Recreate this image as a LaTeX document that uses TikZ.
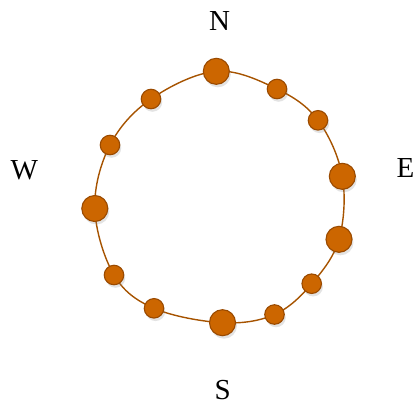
\documentclass[tikz,border=0pt]{standalone}
\usepackage{fontspec}
\setmainfont{Liberation Serif}
\usetikzlibrary{shadows, backgrounds}
\definecolor{dotorange}{HTML}{CC6600}
\definecolor{dotbrown}{HTML}{9A4A00}
\definecolor{ringbrown}{HTML}{A65300}

\begin{document}
\begin{tikzpicture}[x=1pt, y=-1pt,
    dot/.style={circle, fill=dotorange, draw=dotbrown, line width=1.1pt, inner sep=0pt,
        drop shadow={opacity=0.22, shadow xshift=1.5pt, shadow yshift=-3pt}},
    ring/.style={draw=ringbrown, line width=1.4pt},
    compass/.style={font=\fontsize{29}{32}\selectfont, inner sep=0pt}]
    \useasboundingbox (0,0) rectangle (415,405);

    % compass letters
    \node[compass] (north) at (219.5,21) {N};
    \node[compass] (south) at (222.8,390) {S};
    \node[compass] (west) at (24.3,170.3) {W};
    \node[compass] (east) at (405.5,168.5) {E};

    % dots on the ring
    \foreach \nm/\x/\y/\sz in {n/216.3/71.3/26, nne/277/89/19.5, ne/318/120.3/19.5,
        e/342.3/176.3/26, ese/339/239.3/26, se/311.7/283.7/19.5, sse/274.5/314.5/19.5,
        s/222.5/322.7/26, ssw/154/308.3/19.5, sw/114/275/19.5, w/94.8/208.5/26,
        wnw/110/145/19.5, nw/151/99/19.5} {
        \node[dot, minimum size=\sz pt] (\nm) at (\x,\y) {};
    }

    \begin{scope}[on background layer]
        \draw[ring] plot[smooth cycle, tension=0.6] coordinates {(n) (nne) (ne) (e) (ese) (se)
            (sse) (s) (ssw) (sw) (w) (wnw) (nw)};
    \end{scope}
\end{tikzpicture}
\end{document}
